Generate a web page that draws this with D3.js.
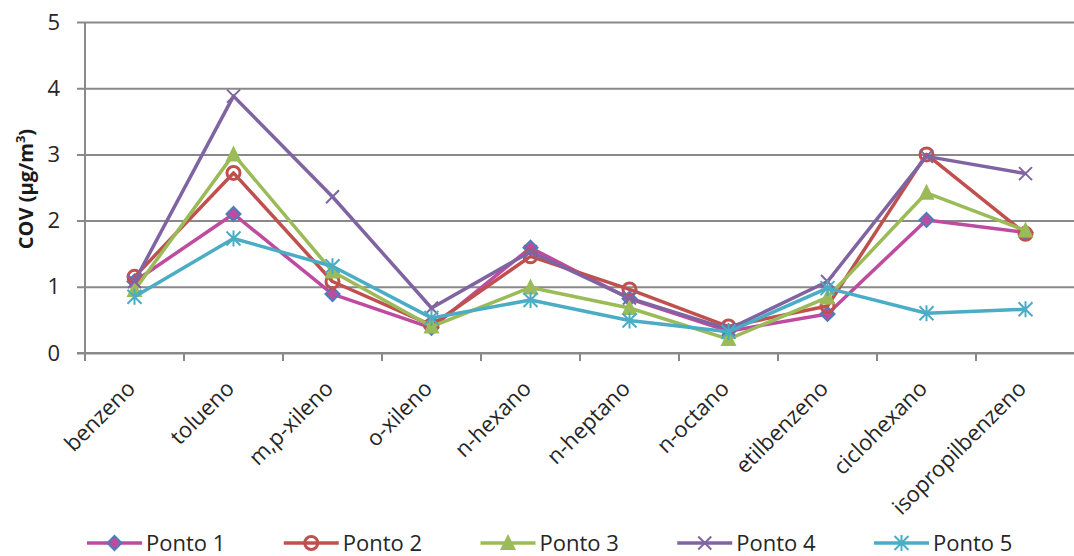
<!DOCTYPE html>
<html>
<head>
<meta charset="utf-8">
<script src="https://cdn.jsdelivr.net/npm/d3@7"></script>
<style>
  html, body { margin: 0; padding: 0; background: #fff; }
  svg { display: block; font-family: "Open Sans", sans-serif; }
</style>
</head>
<body>
<svg id="chart" width="1074" height="556"></svg>
<script>
// Compounds measured
const categories = ["benzeno", "tolueno", "m,p-xileno", "o-xileno", "n-hexano",
  "n-heptano", "n-octano", "etilbenzeno", "ciclohexano", "isopropilbenzeno"];

// Concentrations (µg/m³) per sampling point
const ponto1 = [1.08, 2.10, 0.89, 0.38, 1.59, 0.82, 0.33, 0.59, 2.01, 1.82];
const ponto2 = [1.15, 2.72, 1.08, 0.42, 1.46, 0.96, 0.40, 0.71, 3.00, 1.80];
const ponto3 = [0.95, 3.00, 1.23, 0.40, 0.99, 0.68, 0.21, 0.84, 2.42, 1.85];
const ponto4 = [1.08, 3.88, 2.36, 0.68, 1.53, 0.83, 0.36, 1.08, 2.97, 2.71];
const ponto5 = [0.85, 1.73, 1.31, 0.53, 0.80, 0.49, 0.32, 0.98, 0.60, 0.66];

const seriesNames = ["Ponto 1", "Ponto 2", "Ponto 3", "Ponto 4", "Ponto 5"];
const yTicks = [0, 1, 2, 3, 4, 5];

const seriesValues = [ponto1, ponto2, ponto3, ponto4, ponto5];
const lineColors = ["#BE4B9F", "#C0504D", "#9BBB59", "#8064A2", "#4BACC6"];
const markerTypes = ["diamond", "circle", "triangle", "cross", "star"];

const svg = d3.select("#chart");
const plotLeft = 85, plotRight = 1075, plotTop = 22, plotBottom = 353;

const x = d3.scaleBand().domain(categories).range([plotLeft, plotRight]);
const y = d3.scaleLinear().domain([0, 5]).range([plotBottom, plotTop]);
const cx = c => x(c) + x.bandwidth() / 2;

const gridColor = "#898989";

// Horizontal gridlines with small outward ticks on the value axis
svg.append("g")
  .attr("transform", `translate(${plotLeft},0)`)
  .call(d3.axisLeft(y).tickValues(yTicks).tickSize(-(plotRight - plotLeft)).tickSizeOuter(0).tickPadding(25).tickFormat(d3.format("d")))
  .call(g => g.select(".domain").remove())
  .call(g => g.selectAll(".tick line").attr("stroke", gridColor).attr("stroke-width", 2).attr("x1", -8))
  .call(g => g.selectAll(".tick text").attr("font-size", 22).attr("fill", "#262626")
    .attr("font-family", "Open Sans, sans-serif"));

// Value axis line
svg.append("line")
  .attr("x1", plotLeft).attr("x2", plotLeft).attr("y1", plotTop).attr("y2", plotBottom)
  .attr("stroke", gridColor).attr("stroke-width", 2);

// Category axis: ticks at band boundaries
const boundaries = categories.map(c => x(c)).concat([plotRight]);
const xAxisG = svg.append("g");
xAxisG.append("line")
  .attr("x1", plotLeft - 8).attr("x2", plotRight).attr("y1", plotBottom).attr("y2", plotBottom)
  .attr("stroke", gridColor).attr("stroke-width", 2);
xAxisG.selectAll("line.tk").data(boundaries).join("line")
  .attr("class", "tk")
  .attr("x1", d => d).attr("x2", d => d)
  .attr("y1", plotBottom).attr("y2", plotBottom + 8)
  .attr("stroke", gridColor).attr("stroke-width", 2);

// Rotated category labels
xAxisG.selectAll("text").data(categories).join("text")
  .attr("transform", d => `translate(${cx(d) + 2},${plotBottom + 37}) rotate(-45)`)
  .attr("text-anchor", "end")
  .attr("font-size", 22)
  .attr("fill", "#262626")
  .text(d => d);

// Value axis title
const yTitle = svg.append("text")
  .attr("transform", `translate(33,189) rotate(-90)`)
  .attr("text-anchor", "middle")
  .attr("font-size", 20)
  .attr("font-weight", "bold")
  .attr("fill", "#1a1a1a");
yTitle.append("tspan").text("COV (µg/m");
yTitle.append("tspan").attr("dy", -8).attr("font-size", 13).text("3");
yTitle.append("tspan").attr("dy", 8).text(")");

// Marker drawing
function drawMarker(g, type, color, px, py) {
  if (type === "diamond") {
    const s = 7;
    g.append("path")
      .attr("d", `M${px},${py - s}L${px + s},${py}L${px},${py + s}L${px - s},${py}Z`)
      .attr("fill", color).attr("stroke", "#4A7EBB").attr("stroke-width", 2);
  } else if (type === "circle") {
    g.append("circle").attr("cx", px).attr("cy", py).attr("r", 6.5)
      .attr("fill", "none").attr("stroke", color).attr("stroke-width", 3);
  } else if (type === "triangle") {
    const s = 8;
    g.append("path")
      .attr("d", `M${px},${py - s - 1}L${px + s},${py + s - 1}L${px - s},${py + s - 1}Z`)
      .attr("fill", color);
  } else if (type === "cross") {
    const s = 6.5;
    g.append("path")
      .attr("d", `M${px - s},${py - s}L${px + s},${py + s}M${px - s},${py + s}L${px + s},${py - s}`)
      .attr("stroke", color).attr("stroke-width", 2);
  } else if (type === "star") {
    const s = 7;
    g.append("path")
      .attr("d", `M${px - s},${py - s}L${px + s},${py + s}M${px - s},${py + s}L${px + s},${py - s}M${px},${py - s - 1}L${px},${py + s + 1}`)
      .attr("stroke", color).attr("stroke-width", 2);
  }
}

// Series lines and markers
const line = d3.line().x((d, i) => cx(categories[i])).y(d => y(d));
seriesValues.forEach((vals, si) => {
  const g = svg.append("g");
  g.append("path")
    .attr("d", line(vals))
    .attr("fill", "none")
    .attr("stroke", lineColors[si])
    .attr("stroke-width", 3.5)
    .attr("stroke-linejoin", "round");
  vals.forEach((v, i) => drawMarker(g, markerTypes[si], lineColors[si], cx(categories[i]), y(v)));
});

// Legend
const legendX = d3.scalePoint().domain(seriesNames).range([87, 874]);
const legendY = 543;
seriesNames.forEach((name, si) => {
  const lx = legendX(name);
  const g = svg.append("g");
  g.append("line").attr("x1", lx).attr("x2", lx + 55).attr("y1", legendY).attr("y2", legendY)
    .attr("stroke", lineColors[si]).attr("stroke-width", 3.5);
  drawMarker(g, markerTypes[si], lineColors[si], lx + 27.5, legendY);
  g.append("text").attr("x", lx + 59).attr("y", legendY + 8)
    .attr("font-size", 22).attr("fill", "#262626").text(name);
});
</script>
</body>
</html>
